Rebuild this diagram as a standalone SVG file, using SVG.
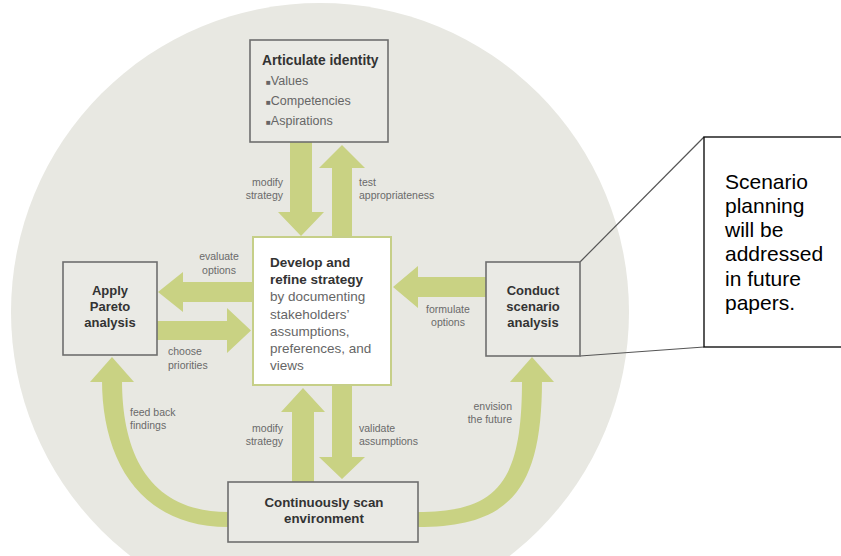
<svg xmlns="http://www.w3.org/2000/svg" width="841" height="556" viewBox="0 0 841 556">
<style>
.box{fill:#eaeae5;stroke:#6e6e6e;stroke-width:1.6}
.dev{fill:#ffffff;stroke:#c6cf88;stroke-width:2}
.arr{fill:#c9d283}
.b{font-family:"Liberation Sans",Arial,sans-serif;font-weight:bold;fill:#333;font-size:13px}
.r{font-family:"Liberation Sans",Arial,sans-serif;fill:#666;font-size:13.5px}
.s{font-family:"Liberation Sans",Arial,sans-serif;fill:#6a6a6a;font-size:10.5px}
.c{font-family:"Liberation Sans",Arial,sans-serif;fill:#000;font-size:21px}
.call{fill:#fff;stroke:#000;stroke-width:1.3}
.lead{fill:none;stroke:#555;stroke-width:1.2}
</style>
<rect x="0" y="0" width="841" height="556" fill="#fff"/>
<circle cx="320" cy="312" r="309" fill="#e8e8e2"/>

<g id="connectors">
  <polygon class="arr" points="290,142 312,142 312,212 324,212 301,236 278,212 290,212"/>
  <polygon class="arr" points="332,237 352,237 352,168 365,168 342,145 319,168 332,168"/>
  <polygon class="arr" points="253,282 253,302 183,302 183,312 158,292 183,272 183,282"/>
  <polygon class="arr" points="157,321 227,321 227,308 251,330.5 227,353 227,340 157,340"/>
  <polygon class="arr" points="486,277 486,297 418,297 418,308 393,287 418,266 418,277"/>
  <polygon class="arr" points="292,482 314,482 314,412 325,412 303,388 281,412 292,412"/>
  <polygon class="arr" points="332,385 352,385 352,457 365,457 342,479 319,457 332,457"/>
  <path class="arr" d="M102,380 C102,460 140,527 228,527 L228,512 C150,512 122,455 122,380 Z"/>
  <polygon class="arr" points="90,382 134,382 112,357"/>
  <path class="arr" d="M542,380 C542,490 510,527 418,527 L418,512 C500,512 522,480 522,380 Z"/>
  <polygon class="arr" points="510,382 554,382 532,357"/>
  <text class="s" text-anchor="end" x="283" y="186">modify</text>
  <text class="s" text-anchor="end" x="283" y="199">strategy</text>
  <text class="s" x="359" y="186">test</text>
  <text class="s" x="359" y="199">appropriateness</text>
  <text class="s" text-anchor="middle" x="219" y="260">evaluate</text>
  <text class="s" text-anchor="middle" x="219" y="274">options</text>
  <text class="s" x="168" y="355">choose</text>
  <text class="s" x="168" y="369">priorities</text>
  <text class="s" text-anchor="middle" x="448" y="313">formulate</text>
  <text class="s" text-anchor="middle" x="448" y="326">options</text>
  <text class="s" x="130" y="416">feed back</text>
  <text class="s" x="130" y="429">findings</text>
  <text class="s" text-anchor="end" x="283" y="432">modify</text>
  <text class="s" text-anchor="end" x="283" y="445">strategy</text>
  <text class="s" x="359" y="432">validate</text>
  <text class="s" x="359" y="445">assumptions</text>
  <text class="s" text-anchor="end" x="512" y="410">envision</text>
  <text class="s" text-anchor="end" x="512" y="423">the future</text>
  <path class="lead" d="M580,262 L704,137"/>
  <path class="lead" d="M580,356 L704,347"/>
</g>

<g id="articulate">
  <rect class="box" x="250" y="40" width="138" height="102"/>
  <text class="b" x="262" y="65" style="font-size:13.8px">Articulate identity</text>
  <text class="r" x="266" y="85" style="font-size:12.5px"><tspan style="font-size:8px">■</tspan>Values</text>
  <text class="r" x="266" y="105" style="font-size:12.5px"><tspan style="font-size:8px">■</tspan>Competencies</text>
  <text class="r" x="266" y="125" style="font-size:12.5px"><tspan style="font-size:8px">■</tspan>Aspirations</text>
</g>

<g id="develop">
  <rect class="dev" x="253" y="237" width="138" height="148"/>
  <text class="b" x="270" y="267" style="font-size:13.5px">Develop and</text>
  <text class="b" x="270" y="284.2" style="font-size:13.5px">refine strategy</text>
  <text class="r" x="270" y="301.4">by documenting</text>
  <text class="r" x="270" y="318.6">stakeholders’</text>
  <text class="r" x="270" y="335.8">assumptions,</text>
  <text class="r" x="270" y="353">preferences, and</text>
  <text class="r" x="270" y="370.2">views</text>
</g>

<g id="pareto">
  <rect class="box" x="63" y="262" width="94" height="93"/>
  <text class="b" text-anchor="middle" x="110" y="295">Apply</text>
  <text class="b" text-anchor="middle" x="110" y="311">Pareto</text>
  <text class="b" text-anchor="middle" x="110" y="327">analysis</text>
</g>

<g id="scenario">
  <rect class="box" x="486" y="262" width="94" height="94"/>
  <text class="b" text-anchor="middle" x="533" y="295">Conduct</text>
  <text class="b" text-anchor="middle" x="533" y="311">scenario</text>
  <text class="b" text-anchor="middle" x="533" y="327">analysis</text>
</g>

<g id="scan">
  <rect class="box" x="228" y="482" width="190" height="60"/>
  <text class="b" text-anchor="middle" x="324" y="507" style="font-size:13.3px">Continuously scan</text>
  <text class="b" text-anchor="middle" x="324" y="523" style="font-size:13.3px">environment</text>
</g>

<g id="callout">
  <rect class="call" x="704" y="137" width="145" height="210"/>
  <text class="c" x="725" y="189">Scenario</text>
  <text class="c" x="725" y="213">planning</text>
  <text class="c" x="725" y="237">will be</text>
  <text class="c" x="725" y="261">addressed</text>
  <text class="c" x="725" y="286">in future</text>
  <text class="c" x="725" y="310">papers.</text>
</g>
</svg>
